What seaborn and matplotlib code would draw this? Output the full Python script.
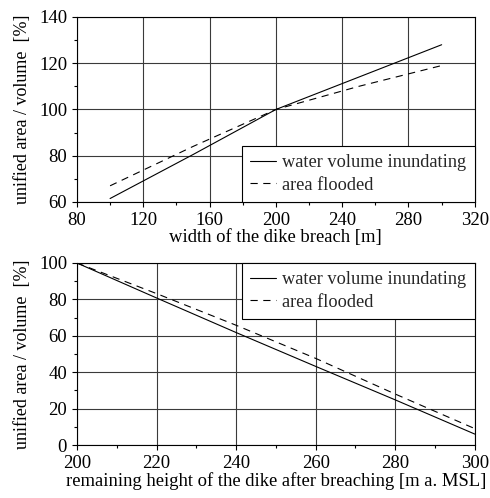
import pandas as pd
import matplotlib
matplotlib.use("Agg")
import matplotlib.pyplot as plt
import seaborn as sns
from matplotlib.ticker import MultipleLocator

# breach width study
width = [100, 150, 200, 250, 300]
width_volume = [61.5, 80.5, 100, 114, 128]
width_area = [67, 84, 100, 110, 119]

# remaining dike height study
height = [200, 220, 240, 260, 280, 300]
height_volume = [100, 80.8, 61.8, 43.2, 24.8, 6]
height_area = [100, 83.2, 65.8, 47.6, 28, 9]

series_names = ["water volume inundating", "area flooded"]

sns.set_theme(style="white")
plt.rcParams["font.family"] = ["Liberation Serif", "DejaVu Serif"]


def long_df(x, a, b):
    return pd.DataFrame({
        "x": list(x) * 2,
        "y": list(a) + list(b),
        "series": [series_names[0]] * len(x) + [series_names[1]] * len(x),
    })


fig = plt.figure(figsize=(4.9, 4.98), dpi=100)
ax1 = fig.add_axes([0.157, 0.5944, 0.812, 0.3715])
ax2 = fig.add_axes([0.157, 0.1064, 0.812, 0.3655])

for ax, df in [(ax1, long_df(width, width_volume, width_area)),
               (ax2, long_df(height, height_volume, height_area))]:
    sns.lineplot(data=df, x="x", y="y", style="series", ax=ax, color="black",
                 linewidth=0.8, dashes={series_names[0]: "", series_names[1]: (6.5, 5)},
                 legend=True)
    ax.grid(True, which="major", color="#3a3a3a", linewidth=0.8)
    for s in ax.spines.values():
        s.set_color("black")
        s.set_linewidth(0.8)
    ax.tick_params(which="both", direction="out", labelsize=13.5, colors="black",
                   bottom=True, left=True, top=False, right=False, width=0.8)
    ax.tick_params(which="major", length=3.6, pad=3.5)
    ax.tick_params(which="minor", length=2.2)
    ax.set_ylabel("unified area / volume  [%]", fontsize=13, color="black", labelpad=6)

ax1.set_xlim(80, 320)
ax1.set_ylim(60, 140)
ax1.xaxis.set_major_locator(MultipleLocator(40))
ax1.xaxis.set_minor_locator(MultipleLocator(20))
ax1.yaxis.set_major_locator(MultipleLocator(20))
ax1.yaxis.set_minor_locator(MultipleLocator(10))
ax1.set_xlabel("width of the dike breach [m]", fontsize=13.4, color="black", labelpad=0)

ax2.set_xlim(200, 300)
ax2.set_ylim(0, 100)
ax2.xaxis.set_major_locator(MultipleLocator(20))
ax2.xaxis.set_minor_locator(MultipleLocator(10))
ax2.yaxis.set_major_locator(MultipleLocator(20))
ax2.yaxis.set_minor_locator(MultipleLocator(10))
ax2.set_xlabel("remaining height of the dike after breaching [m a. MSL]", fontsize=13.4,
               color="black", labelpad=0)

for ax, loc in [(ax1, "lower right"), (ax2, "upper right")]:
    leg = ax.legend(loc=loc, fontsize=13.2, frameon=True, fancybox=False, framealpha=1,
                    edgecolor="black", borderaxespad=0, handlelength=1.4,
                    handletextpad=0.35, borderpad=0.45, labelspacing=0.3)
    leg.get_frame().set_linewidth(0.8)

fig.savefig("out.png", dpi=100)
